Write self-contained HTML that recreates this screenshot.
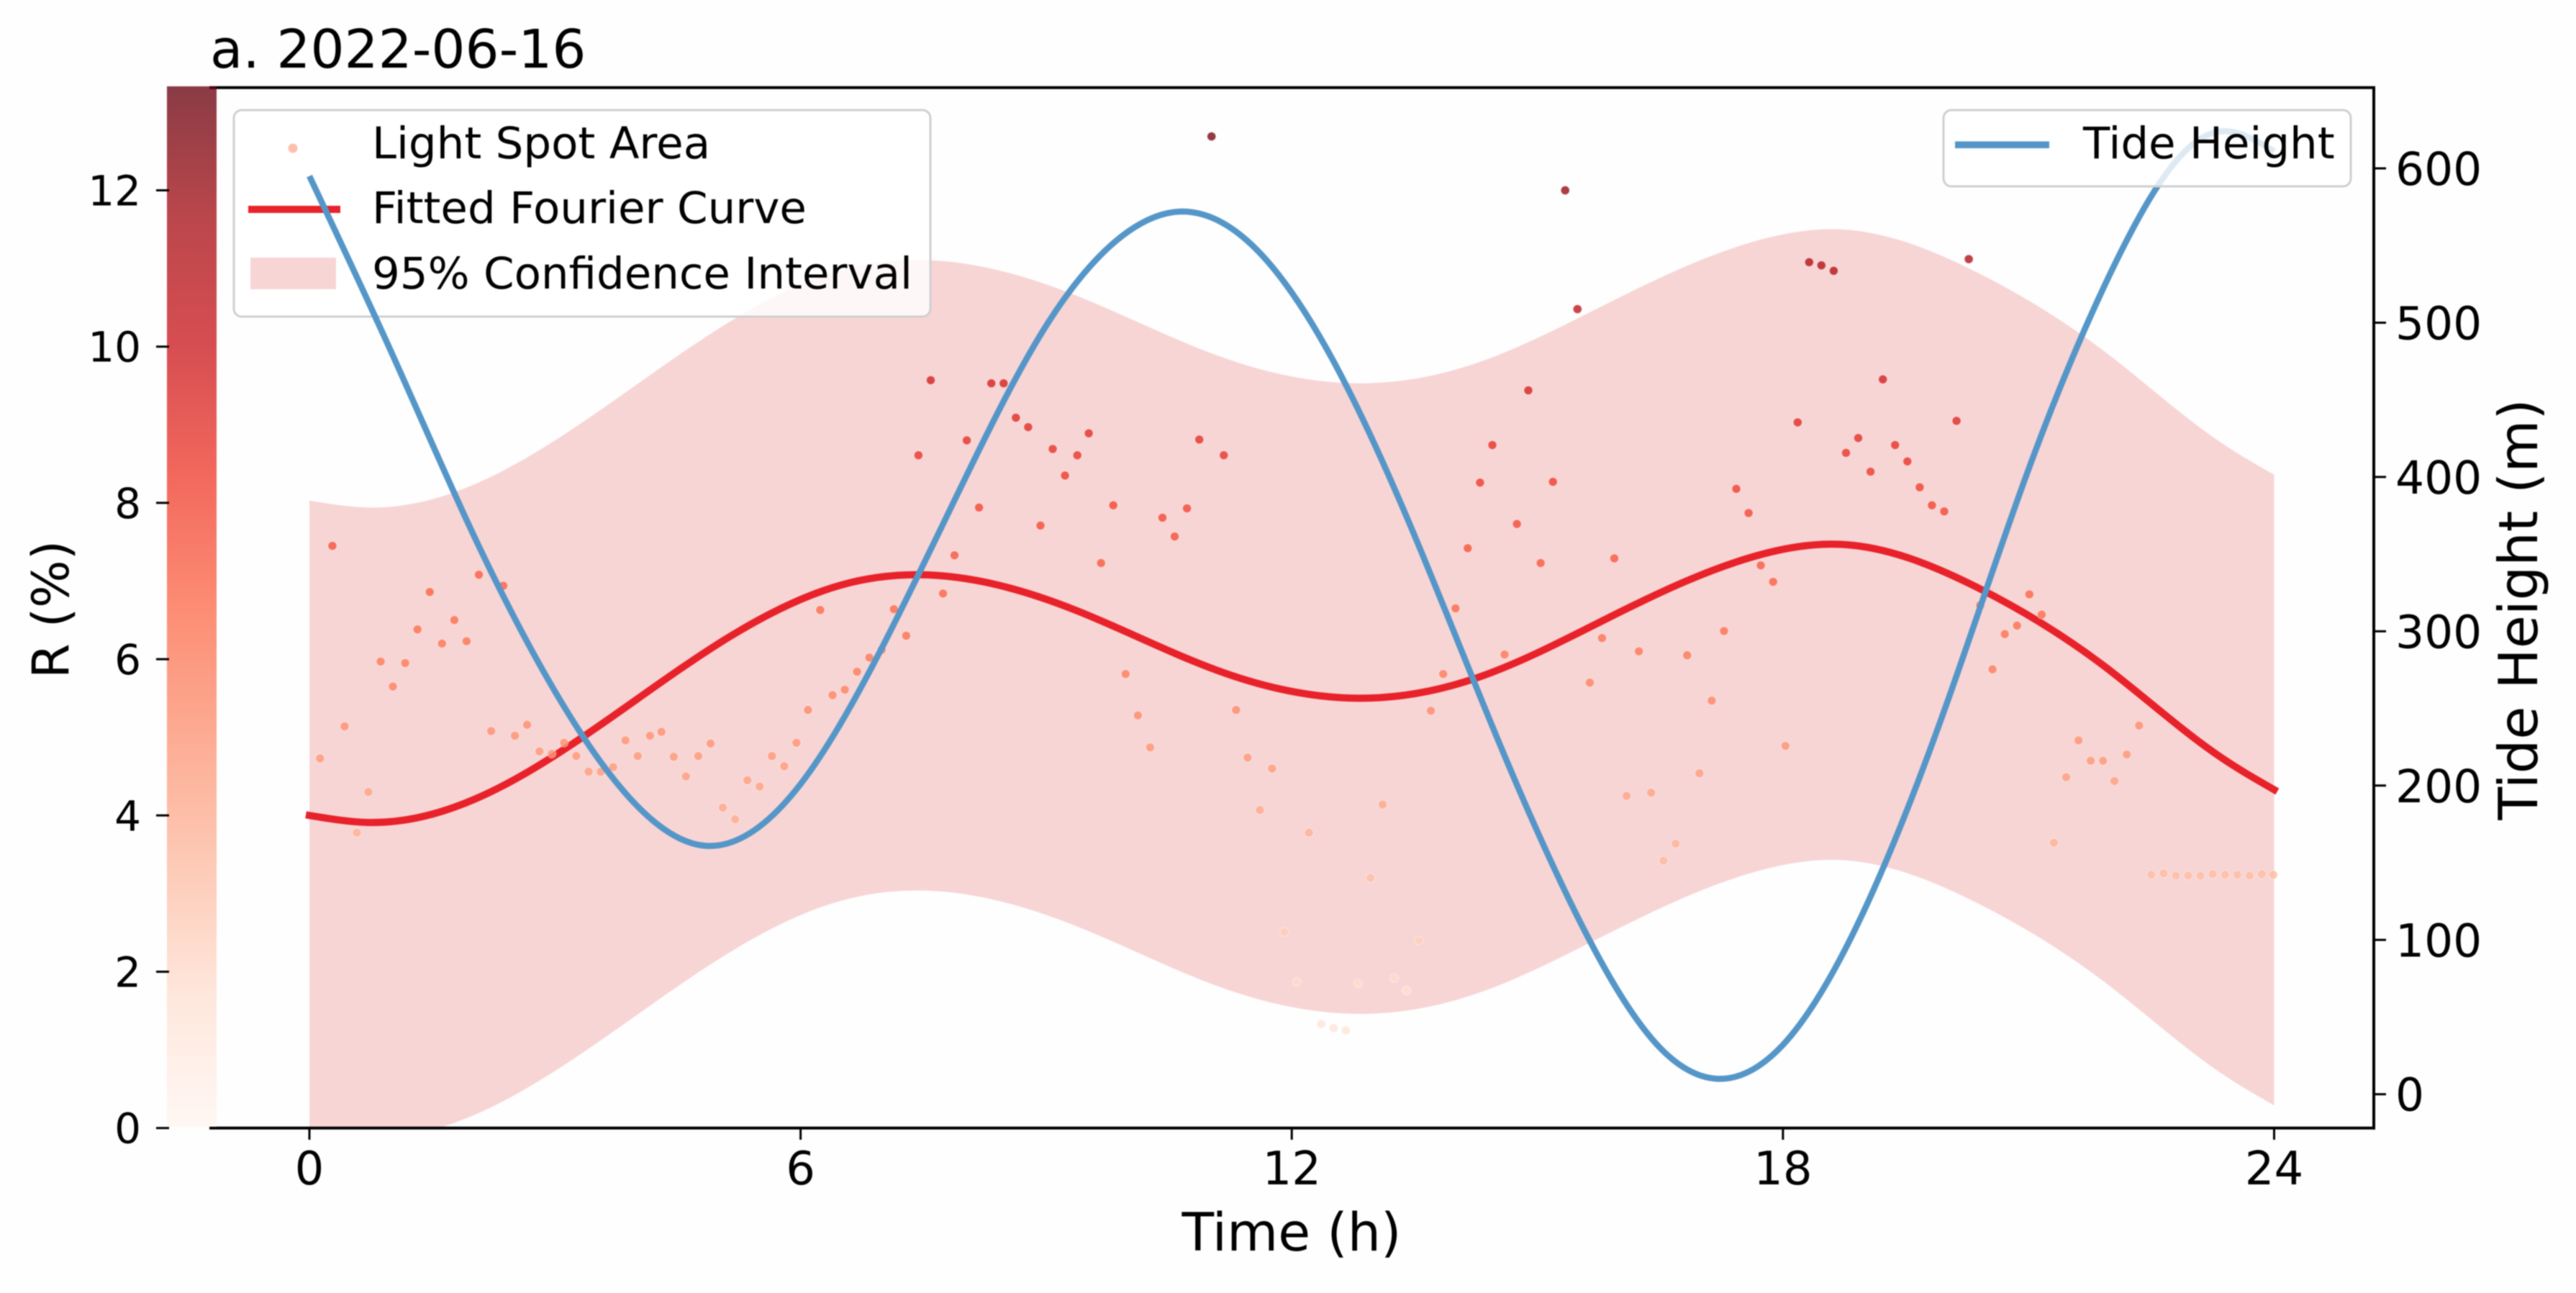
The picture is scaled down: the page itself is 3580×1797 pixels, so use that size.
<!DOCTYPE html>
<html lang="en">
<head>
<meta charset="utf-8">
<title>a. 2022-06-16</title>
<style>
html,body{margin:0;padding:0;background:#fefefe;}
svg{display:block;position:absolute;left:0;top:0;filter:blur(0.8px);}
text{font-family:"DejaVu Sans","Liberation Sans",sans-serif;fill:#000;}
</style>
</head>
<body>
<svg id="chart" xmlns="http://www.w3.org/2000/svg" width="3580" height="1797" viewBox="0 0 3580 1797">
  <defs>
    <clipPath id="plot-clip"><rect x="291" y="121.7" width="3008" height="1446"></rect></clipPath>
    <linearGradient id="cbar-grad" x1="0" y1="1" x2="0" y2="0"></linearGradient>
  </defs>
  <rect x="0" y="0" width="3580" height="1797" fill="#fefefe"></rect>
  <text x="292" y="94" font-size="74">a. 2022-06-16</text>
  <g id="ci-layer" clip-path="url(#plot-clip)"></g>
  <g id="fit-layer" clip-path="url(#plot-clip)"></g>
  <g id="dots-layer"></g>
  <g>
    <rect x="325" y="153" width="968" height="287" rx="11" fill="#fff" fill-opacity="0.8" stroke="#cfcfcf" stroke-width="3"></rect>
    <circle cx="407" cy="206" r="6.5" fill="#fdc0ac"></circle>
    <text x="517" y="220" font-size="61">Light Spot Area</text>
    <rect x="345" y="286" width="128" height="10" fill="#e8222a"></rect>
    <text x="517" y="310" font-size="61">Fitted Fourier Curve</text>
    <rect x="348" y="358" width="119" height="44" fill="#f8d5d5"></rect>
    <text x="517" y="401" font-size="61">95% Confidence Interval</text>
  </g>
  <g id="tide-layer" clip-path="url(#plot-clip)"></g>
  <g>
    <rect x="2701" y="153" width="566" height="106" rx="11" fill="#fff" fill-opacity="0.8" stroke="#cfcfcf" stroke-width="3"></rect>
    <rect x="2717" y="196.5" width="131" height="9.5" fill="#5596c8"></rect>
    <text x="2895" y="220" font-size="61">Tide Height</text>
  </g>
  <g stroke="#000" stroke-width="4" fill="none">
    <line x1="291" y1="121.7" x2="3301" y2="121.7"></line>
    <line x1="3299" y1="120" x2="3299" y2="1569.7"></line>
    <line x1="291" y1="1567.7" x2="3301" y2="1567.7"></line>
  </g>
  <rect x="232" y="120" width="69" height="1446" fill="url(#cbar-grad)"></rect>
  <g id="axis-layer"></g>
  <text x="1795" y="1738" font-size="73" text-anchor="middle">Time (h)</text>
  <text transform="translate(95,847) rotate(-90)" font-size="70" text-anchor="middle">R (%)</text>
  <text transform="translate(3526,847) rotate(-90)" font-size="75" text-anchor="middle">Tide Height (m)</text>
</svg>
<script>
// ---------- chart data ----------
const xTicks = [0, 6, 12, 18, 24];
const yTicks = [0, 2, 4, 6, 8, 10, 12];
const tideTicks = [0, 100, 200, 300, 400, 500, 600];

const spotHours = [
  0.13,0.28,0.43,0.58,0.72,0.87,1.02,1.17,1.32,1.47,
  1.62,1.77,1.92,2.07,2.22,2.37,2.51,2.66,2.81,2.96,
  3.11,3.26,3.41,3.56,3.71,3.86,4.01,4.16,4.30,4.45,
  4.60,4.75,4.90,5.05,5.20,5.35,5.50,5.65,5.80,5.95,
  6.09,6.24,6.39,6.54,6.69,6.84,6.99,7.14,7.29,7.44,
  7.59,7.74,7.88,8.03,8.18,8.33,8.48,8.63,8.78,8.93,
  9.08,9.23,9.38,9.52,9.67,9.82,9.97,10.12,10.27,10.42,
  10.57,10.72,10.87,11.02,11.17,11.32,11.46,11.61,11.76,11.91,
  12.06,12.21,12.36,12.51,12.66,12.81,12.96,13.11,13.25,13.40,
  13.55,13.70,13.85,14.00,14.15,14.30,14.45,14.60,14.75,14.89,
  15.04,15.19,15.34,15.49,15.64,15.79,15.94,16.09,16.24,16.39,
  16.54,16.69,16.83,16.98,17.13,17.28,17.43,17.58,17.73,17.88,
  18.03,18.18,18.32,18.47,18.62,18.77,18.92,19.07,19.22,19.37,
  19.52,19.67,19.82,19.97,20.12,20.27,20.41,20.56,20.71,20.86,
  21.01,21.16,21.31,21.46,21.61,21.76,21.91,22.05,22.20,22.35,
  22.50,22.65,22.80,22.95,23.10,23.25,23.40,23.55,23.70,23.85,
  23.99
];
const spotR = [
  4.73,7.45,5.14,3.78,4.30,5.97,5.65,5.95,6.38,6.86,
  6.20,6.50,6.23,7.08,5.08,6.94,5.02,5.16,4.82,4.79,
  4.93,4.76,4.56,4.56,4.62,4.96,4.76,5.02,5.07,4.75,
  4.50,4.76,4.92,4.10,3.95,4.45,4.37,4.76,4.63,4.93,
  5.35,6.63,5.54,5.61,5.84,6.02,6.12,6.64,6.30,8.61,
  9.57,6.84,7.33,8.80,7.94,9.53,9.53,9.09,8.97,7.71,
  8.69,8.35,8.61,8.89,7.23,7.97,5.81,5.28,4.87,7.81,
  7.57,7.93,8.81,12.69,8.61,5.35,4.74,4.07,4.60,2.51,
  1.87,3.78,1.33,1.28,1.25,1.85,3.20,4.14,1.92,1.76,
  2.40,5.34,5.81,6.65,7.42,8.26,8.74,6.06,7.73,9.44,
  7.23,8.27,12.00,10.48,5.70,6.27,7.29,4.25,6.10,4.29,
  3.42,3.64,6.05,4.54,5.47,6.36,8.18,7.87,7.20,6.99,
  4.89,9.03,11.08,11.04,10.97,8.64,8.83,8.40,9.58,8.74,
  8.53,8.20,7.97,7.89,9.05,11.12,6.69,5.87,6.32,6.43,
  6.83,6.57,3.65,4.49,4.96,4.70,4.70,4.44,4.78,5.15,
  3.24,3.26,3.23,3.23,3.23,3.25,3.24,3.24,3.23,3.25,
  3.24
];

const fitHours = [0,0.75,2,3.32,5.06,6.5,7.44,9.4,11.08,12.82,14.23,15.85,17.77,18.7,20.37,21.95,23.34,24];
const fitR = [4.00,3.91,4.20,4.99,6.24,6.95,7.08,6.61,5.86,5.50,5.75,6.52,7.35,7.47,6.92,5.89,4.75,4.33];
const ciUpper = [8.03,7.94,8.23,9.02,10.27,10.98,11.11,10.64,9.89,9.53,9.78,10.55,11.38,11.50,10.95,9.92,8.78,8.36];
const ciLower = [-0.04,-0.13,0.16,0.95,2.20,2.91,3.04,2.57,1.82,1.46,1.71,2.48,3.31,3.43,2.88,1.85,0.71,0.29];

const tideHours = [0,1,2,3,4,4.83,6,7,8,9,10,10.64,11.5,12.5,13.5,14.5,15.5,16.5,17.26,18,19,20,21,22,22.95,23.35,24];
const tideHeight = [595,481,363,261,187,161,201,290,398,498,559,572,551,476,362,232,114,30,10,32,120,253,405,532,613,624,611];

// ---------- scales ----------
const xScale = h => 430 + 113.77 * h;
const yScale = r => 1567.7 - 108.6 * r;
const tideScale = v => 1520.7 - 2.1445 * v;

// ---------- colour map (Reds) ----------
const redsStops = [[255,245,240],[254,224,210],[252,187,161],[252,146,114],[251,106,74],[239,59,44],[203,24,29],[165,15,21],[103,0,13]];
const colorMaxR = 13.3;
function reds(t, alpha) {
  const c = Math.max(0, Math.min(1, t)) * (redsStops.length - 1);
  const i = Math.min(redsStops.length - 2, Math.floor(c));
  const f = c - i;
  const ch = k => Math.round(redsStops[i][k] + (redsStops[i + 1][k] - redsStops[i][k]) * f);
  return 'rgba(' + ch(0) + ',' + ch(1) + ',' + ch(2) + ',' + alpha + ')';
}

const NS = 'http://www.w3.org/2000/svg';
function make(tag, parent, attrs) {
  const el = document.createElementNS(NS, tag);
  for (const k in attrs) el.setAttribute(k, attrs[k]);
  parent.appendChild(el);
  return el;
}
// natural cubic spline through the knots, emitted as bezier segments
function smoothSegs(px, py) {
  const n = px.length;
  const h = [];
  for (let i = 0; i < n - 1; i++) h.push(px[i + 1] - px[i]);
  const M = new Array(n).fill(0);
  const c = new Array(n).fill(0), d = new Array(n).fill(0);
  for (let i = 1; i < n - 1; i++) {
    const a = h[i - 1], b = 2 * (h[i - 1] + h[i]), e = h[i];
    const r = 6 * ((py[i + 1] - py[i]) / h[i] - (py[i] - py[i - 1]) / h[i - 1]);
    const m = b - a * c[i - 1];
    c[i] = e / m;
    d[i] = (r - a * d[i - 1]) / m;
  }
  for (let i = n - 2; i > 0; i--) M[i] = d[i] - c[i] * M[i + 1];
  let out = '';
  for (let i = 0; i < n - 1; i++) {
    const s = (py[i + 1] - py[i]) / h[i];
    const d0 = s - h[i] * (2 * M[i] + M[i + 1]) / 6;
    const d1 = s + h[i] * (M[i] + 2 * M[i + 1]) / 6;
    const dx = h[i] / 3;
    out += 'C' + (px[i] + dx).toFixed(1) + ' ' + (py[i] + d0 * dx).toFixed(1) + ' ' +
           (px[i + 1] - dx).toFixed(1) + ' ' + (py[i + 1] - d1 * dx).toFixed(1) + ' ' +
           px[i + 1].toFixed(1) + ' ' + py[i + 1].toFixed(1);
  }
  return out;
}
function curvePath(hours, vals, yFn) {
  const px = hours.map(xScale), py = vals.map(yFn);
  return 'M' + px[0].toFixed(1) + ' ' + py[0].toFixed(1) + smoothSegs(px, py);
}

// colorbar gradient
const grad = document.getElementById('cbar-grad');
for (let i = 0; i < redsStops.length; i++) {
  const t = i / (redsStops.length - 1);
  make('stop', grad, { offset: t, 'stop-color': reds(t, 0.77) });
}

// confidence band
const ciLayer = document.getElementById('ci-layer');
const upperPx = fitHours.map(xScale), upperPy = ciUpper.map(yScale);
const lowerPx = fitHours.map(xScale), lowerPy = ciLower.map(yScale);
const lowerBack = curvePath(fitHours, ciLower, yScale);
const lowerRevPx = lowerPx.slice().reverse().map(v => -v);
const lowerRevPy = lowerPy.slice().reverse();
const lowerSegs = smoothSegs(lowerRevPx, lowerRevPy).replace(/C([^C]+)/g, (m, body) => {
  const p = body.trim().split(' ').map(Number);
  return 'C' + (-p[0]).toFixed(1) + ' ' + p[1] + ' ' + (-p[2]).toFixed(1) + ' ' + p[3] + ' ' + (-p[4]).toFixed(1) + ' ' + p[5];
});
const ciPath = make('path', ciLayer, {
  d: 'M' + upperPx[0] + ' ' + upperPy[0] + smoothSegs(upperPx, upperPy) +
     'L' + lowerPx[lowerPx.length - 1] + ' ' + lowerPy[lowerPy.length - 1] + lowerSegs + 'Z',
  fill: '#f8d5d5'
});



// fitted curve
const fitPath = make('path', document.getElementById('fit-layer'), {
  d: curvePath(fitHours, fitR, yScale),
  fill: 'none', stroke: '#e8222a', 'stroke-width': 10, 'stroke-linecap': 'square'
});



// scatter
const dotsLayer = document.getElementById('dots-layer');
spotHours.forEach((h, i) => {
  const dot = make('circle', dotsLayer, {
    cx: xScale(h).toFixed(1), cy: yScale(spotR[i]).toFixed(1), r: 6,
    fill: reds(spotR[i] / colorMaxR, 0.8), stroke: 'rgba(255,255,255,0.35)', 'stroke-width': 1.2
  });
  
  
});

// tide line
const tidePath = make('path', document.getElementById('tide-layer'), {
  d: curvePath(tideHours, tideHeight, tideScale),
  fill: 'none', stroke: '#5596c8', 'stroke-width': 8.5
});



// axes
const axisLayer = document.getElementById('axis-layer');
xTicks.forEach(v => {
  const x = xScale(v);
  const tick = make('line', axisLayer, { x1: x, x2: x, y1: 1567.7, y2: 1584, stroke: '#000', 'stroke-width': 3 });
  
  
  const label = make('text', axisLayer, { x: x, y: 1646, 'font-size': 64, 'text-anchor': 'middle' });
  label.textContent = String(v);
  
  
});
yTicks.forEach(v => {
  const y = yScale(v);
  const tick = make('line', axisLayer, { x1: 217, x2: 235, y1: y, y2: y, stroke: '#000', 'stroke-width': 3 });
  
  
  const label = make('text', axisLayer, { x: 196, y: y + 21, 'font-size': 58, 'text-anchor': 'end' });
  label.textContent = String(v);
  
  
});
tideTicks.forEach(v => {
  const y = tideScale(v);
  const tick = make('line', axisLayer, { x1: 3299, x2: 3316, y1: y, y2: y, stroke: '#000', 'stroke-width': 3 });
  
  
  const label = make('text', axisLayer, { x: 3329, y: y + 23, 'font-size': 63 });
  label.textContent = String(v);
  
  
});
</script>
</body>
</html>
